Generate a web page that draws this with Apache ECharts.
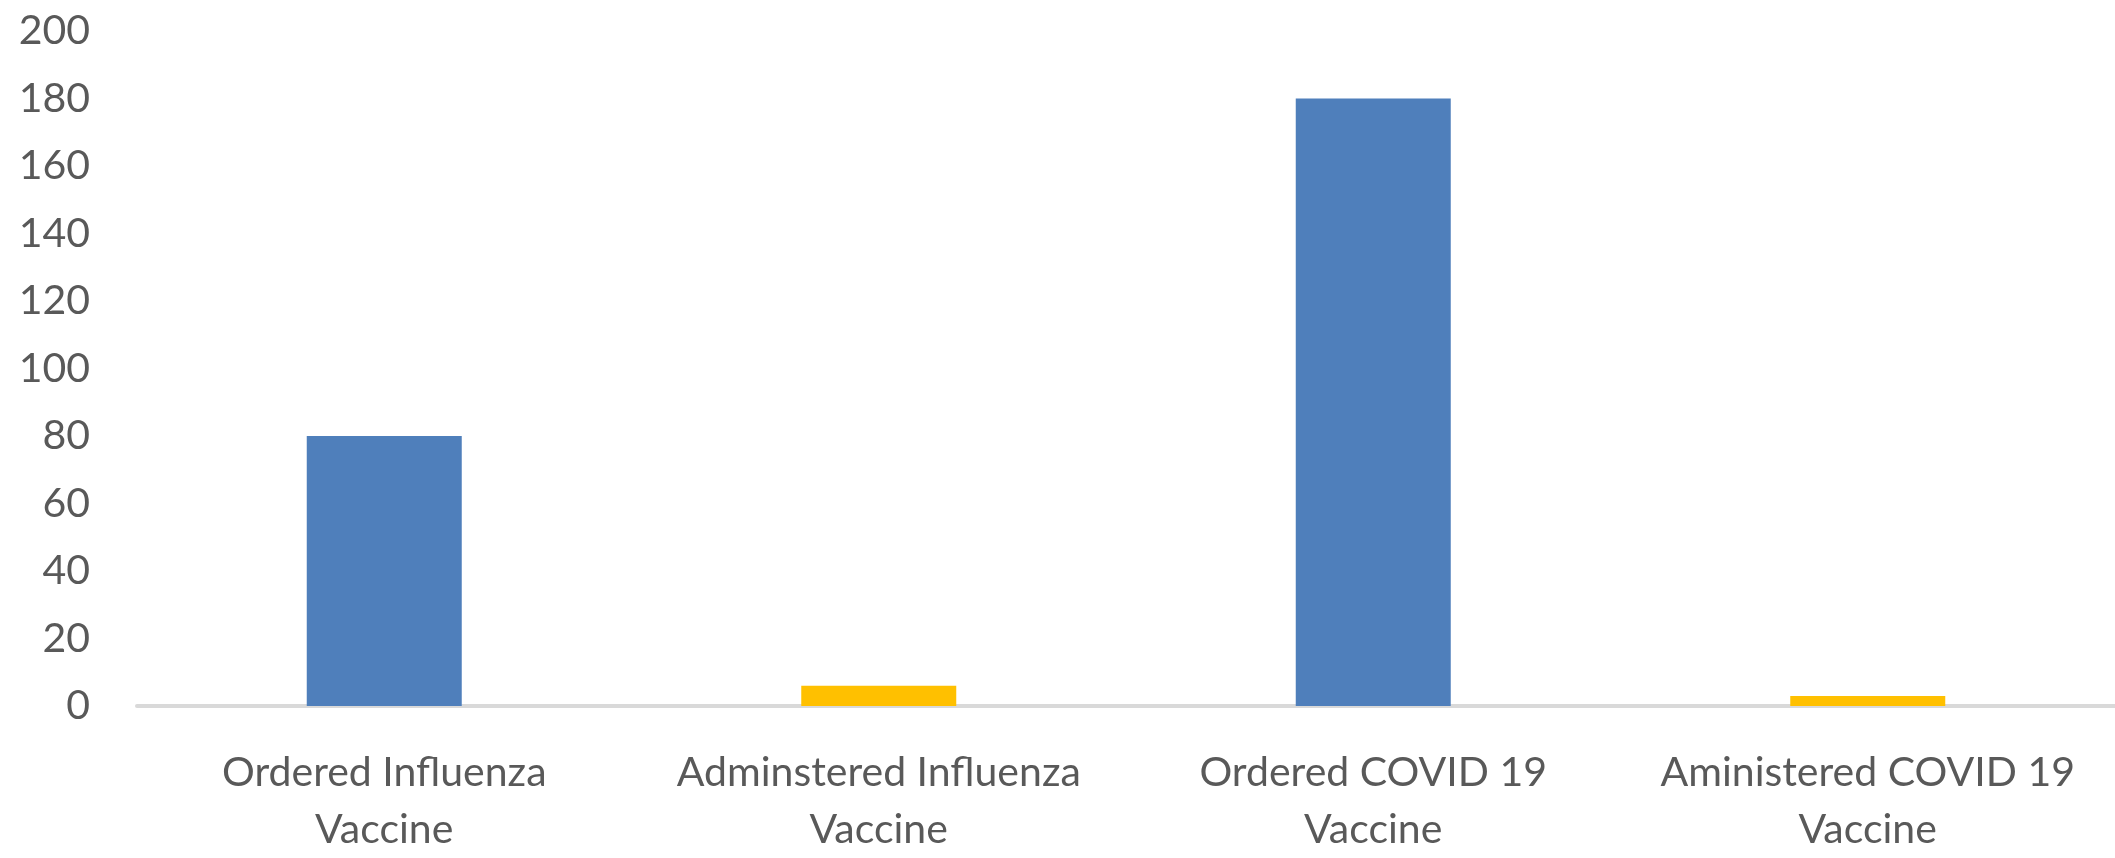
<!DOCTYPE html>
<html lang="en">
<head>
    <meta charset="UTF-8">
    <title>Vaccines</title>
    <script src="https://cdn.jsdelivr.net/npm/echarts@6/dist/echarts.min.js"></script>
    <style>
        html, body {
            margin: 0;
            padding: 0;
            background: #fff;
        }

        #main {
            width: 2115px;
            height: 858px;
        }
    </style>
</head>
<body>
<div id="main"></div>
<script>
    var categories = ['Ordered Influenza\nVaccine', 'Adminstered Influenza\nVaccine', 'Ordered COVID 19\nVaccine', 'Aministered COVID 19\nVaccine'];
    var ordered = [80, null, 180, null];
    var administered = [null, 6, null, 3];
    var yTicks = [0, 20, 40, 60, 80, 100, 120, 140, 160, 180, 200];

    var myChart = echarts.init(document.getElementById('main'));
    var textFont = 'Lato';

    var option = {
        animation: false,
        grid: {
            left: 137,
            right: -3,
            top: 31,
            bottom: 147,
            containLabel: false
        },
        xAxis: {
            type: 'category',
            data: categories,
            axisLine: {lineStyle: {color: '#d9d9d9', width: 4}},
            axisTick: {show: false},
            axisLabel: {
                color: '#595959',
                fontFamily: textFont,
                fontSize: 41,
                lineHeight: 57,
                margin: 38,
                interval: 0
            }
        },
        yAxis: {
            type: 'value',
            min: yTicks[0],
            max: yTicks[yTicks.length - 1],
            interval: yTicks[1] - yTicks[0],
            splitLine: {show: false},
            axisLine: {show: false},
            axisTick: {show: false},
            axisLabel: {
                color: '#595959',
                fontFamily: textFont,
                fontSize: 41,
                margin: 47
            }
        },
        series: [
            {
                name: 'Ordered',
                type: 'bar',
                stack: 'v',
                data: ordered,
                barWidth: 155,
                itemStyle: {color: '#4f7fbb'}
            },
            {
                name: 'Administered',
                type: 'bar',
                stack: 'v',
                data: administered,
                barWidth: 155,
                itemStyle: {color: '#ffc000'}
            }
        ]
    };

    option && myChart.setOption(option);
</script>
</body>
</html>
